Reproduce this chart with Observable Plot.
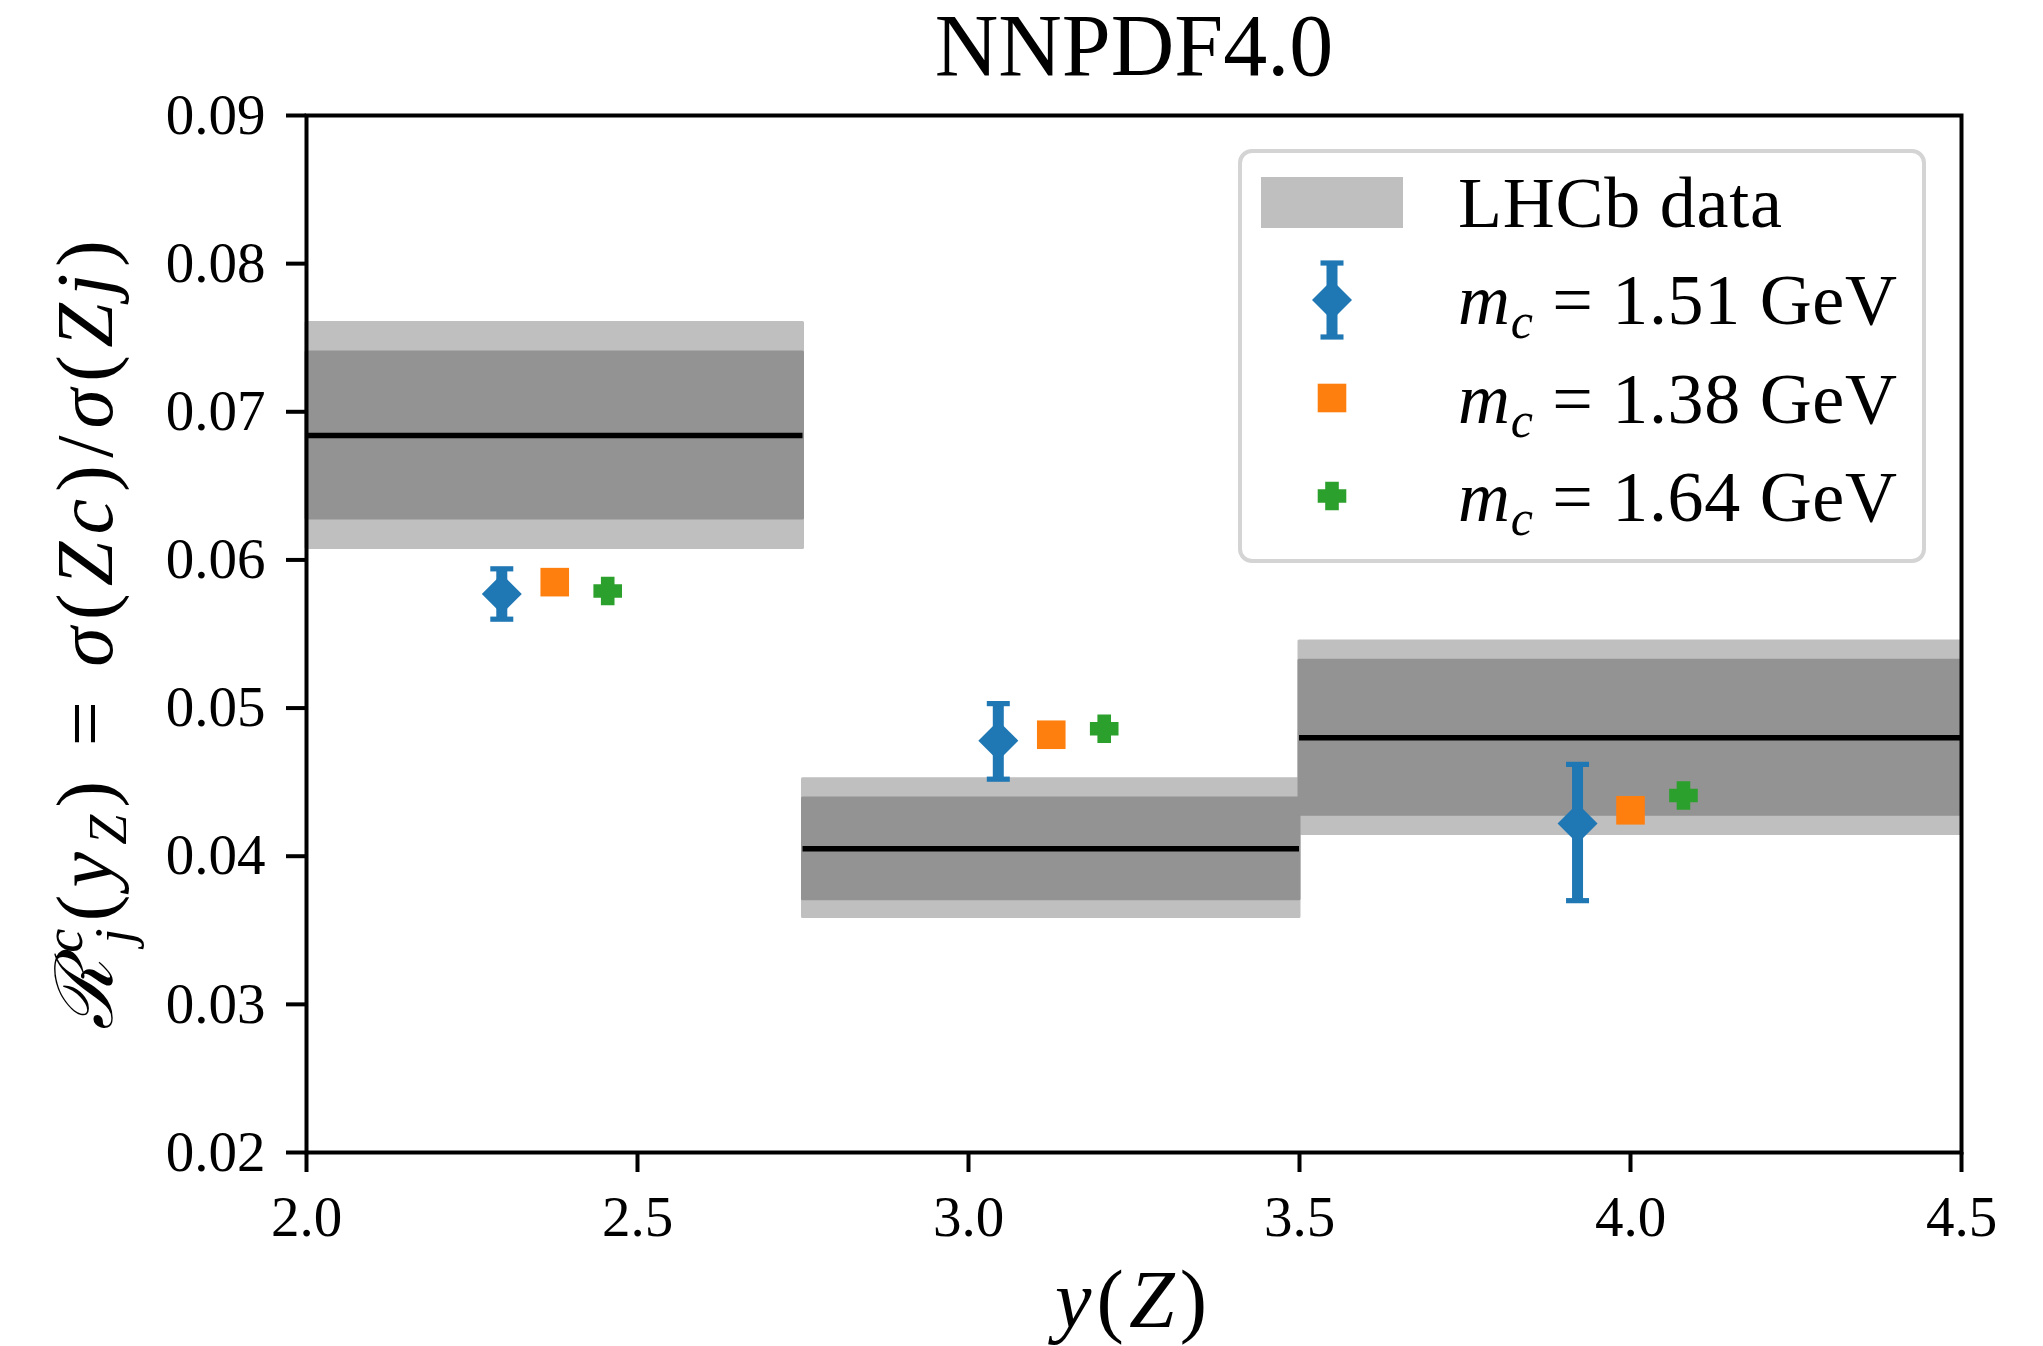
<!DOCTYPE html>
<html>
<head>
<meta charset="utf-8">
<script src="https://cdn.jsdelivr.net/npm/d3@7"></script>
<script src="https://cdn.jsdelivr.net/npm/@observablehq/plot@0.6"></script>
<style>
  body { margin: 0; background: #fff; width: 2043px; height: 1346px; overflow: hidden; font-family: "Liberation Serif", serif; }
  #title { position: relative; height: 90px; }
  #title span { position: absolute; left: 1134px; top: 2px; transform: translateX(-50%); font-size: 88px; line-height: 88px; white-space: nowrap; color: #000; }
  #chart svg { display: block; }
</style>
</head>
<body>
<div id="title"><span>NNPDF4.0</span></div>
<div id="chart"></div>
<script>
// ---- data ----
const binLow = [2.0, 2.75, 3.5];
const binHigh = [2.75, 3.5, 4.5];
const lhcbCentral = [0.0684, 0.0405, 0.0480];
const lhcbStatLow = [0.0628, 0.0371, 0.0428];
const lhcbStatHigh = [0.0740, 0.0439, 0.0532];
const lhcbTotLow = [0.0608, 0.0359, 0.0415];
const lhcbTotHigh = [0.0760, 0.0452, 0.0545];

const mc151 = [0.0577, 0.0478, 0.0422];
const mc151Low = [0.0560, 0.0452, 0.0370];
const mc151High = [0.0594, 0.0503, 0.0462];
const mc138 = [0.0585, 0.0482, 0.0431];
const mc164 = [0.0579, 0.0486, 0.0441];
const seriesOffset = [-0.08, 0.0, 0.08]; // 1.51, 1.38, 1.64 GeV
const seriesLabels = ["1.51", "1.38", "1.64"];
const seriesColors = ["#1f77b4", "#ff7f0e", "#2ca02c"];

const xTicks = [2.0, 2.5, 3.0, 3.5, 4.0, 4.5];
const yTicks = [0.02, 0.03, 0.04, 0.05, 0.06, 0.07, 0.08, 0.09];

// ---- tables ----
const bins = binLow.map((lo, i) => ({
  x1: lo, x2: binHigh[i], xc: (lo + binHigh[i]) / 2,
  c: lhcbCentral[i], sLo: lhcbStatLow[i], sHi: lhcbStatHigh[i],
  tLo: lhcbTotLow[i], tHi: lhcbTotHigh[i]
}));
const p151 = bins.map((b, i) => ({x: b.xc + seriesOffset[0], y: mc151[i], lo: mc151Low[i], hi: mc151High[i]}));
const p138 = bins.map((b, i) => ({x: b.xc + seriesOffset[1], y: mc138[i]}));
const p164 = bins.map((b, i) => ({x: b.xc + seriesOffset[2], y: mc164[i]}));

// ---- marker shapes (pixel sized) ----
const diamondSym = {draw(ctx) { const h = 20; ctx.moveTo(0, -h); ctx.lineTo(h, 0); ctx.lineTo(0, h); ctx.lineTo(-h, 0); ctx.closePath(); }};
const squareSym = {draw(ctx) { const h = 14.3; ctx.moveTo(-h, -h); ctx.lineTo(h, -h); ctx.lineTo(h, h); ctx.lineTo(-h, h); ctx.closePath(); }};
const plusSym = {draw(ctx) {
  const e = 14.3, a = 6.8;
  ctx.moveTo(-a, -e); ctx.lineTo(a, -e); ctx.lineTo(a, -a); ctx.lineTo(e, -a); ctx.lineTo(e, a); ctx.lineTo(a, a);
  ctx.lineTo(a, e); ctx.lineTo(-a, e); ctx.lineTo(-a, a); ctx.lineTo(-e, a); ctx.lineTo(-e, -a); ctx.lineTo(-a, -a); ctx.closePath();
}};
const capSym = {draw(ctx) { const w = 11.5, t = 2.6; ctx.moveTo(-w, -t); ctx.lineTo(w, -t); ctx.lineTo(w, t); ctx.lineTo(-w, t); ctx.closePath(); }};

const plot = Plot.plot({
  width: 2043, height: 1256,
  marginLeft: 306, marginRight: 82, marginTop: 25, marginBottom: 194,
  x: {domain: [2.0, 4.5]},
  y: {domain: [0.02, 0.09]},
  style: {fontFamily: "'Liberation Serif', serif", fontSize: "57px", color: "#000", background: "#fff", overflow: "visible"},
  marks: [
    Plot.rect(bins, {x1: "x1", x2: "x2", y1: "tLo", y2: "tHi", fill: "#bfbfbf", stroke: "#bfbfbf", strokeWidth: 3, strokeLinejoin: "round"}),
    Plot.rect(bins, {x1: "x1", x2: "x2", y1: "sLo", y2: "sHi", fill: "#939393", stroke: "#939393", strokeWidth: 3, strokeLinejoin: "round"}),
    Plot.ruleY(bins, {x1: "x1", x2: "x2", y: "c", stroke: "#000", strokeWidth: 5.5}),
    Plot.ruleX(p151, {x: "x", y1: "lo", y2: "hi", stroke: seriesColors[0], strokeWidth: 11}),
    Plot.dot(p151, {x: "x", y: "lo", symbol: capSym, fill: seriesColors[0], stroke: "none"}),
    Plot.dot(p151, {x: "x", y: "hi", symbol: capSym, fill: seriesColors[0], stroke: "none"}),
    Plot.dot(p151, {x: "x", y: "y", symbol: diamondSym, fill: seriesColors[0], stroke: "none"}),
    Plot.dot(p138, {x: "x", y: "y", symbol: squareSym, fill: seriesColors[1], stroke: "none"}),
    Plot.dot(p164, {x: "x", y: "y", symbol: plusSym, fill: seriesColors[2], stroke: "none"}),
    Plot.frame({stroke: "#000", strokeWidth: 4}),
    Plot.axisX({ticks: xTicks, tickFormat: d3.format(".1f"), tickSize: 20, tickPadding: 23, strokeWidth: 4, label: null}),
    Plot.axisY({ticks: yTicks, tickFormat: d3.format(".2f"), tickSize: 20, tickPadding: 21, strokeWidth: 4, label: null})
  ]
});
document.getElementById("chart").appendChild(plot);

const svg = d3.select(plot);
const FONT = "'Liberation Serif', serif";

// y label
const yl = svg.append("text")
  .attr("transform", "translate(112,545) rotate(-90)")
  .attr("text-anchor", "middle")
  .attr("font-family", FONT).attr("font-size", 80).attr("fill", "#000")
  .attr("textLength", 790).attr("lengthAdjust", "spacing");
yl.append("tspan").attr("font-style", "italic").text("ℛ");
yl.append("tspan").attr("font-style", "italic").attr("font-size", 54).attr("dy", -30).text("c");
yl.append("tspan").attr("font-style", "italic").attr("font-size", 54).attr("dx", -22).attr("dy", 50).text("j");
yl.append("tspan").attr("dy", -20).text("(");
yl.append("tspan").attr("font-style", "italic").text("y");
yl.append("tspan").attr("font-style", "italic").attr("font-size", 54).attr("dy", 14).text("Z");
yl.append("tspan").attr("dy", -14).text(") = ");
yl.append("tspan").attr("font-style", "italic").text("σ");
yl.append("tspan").text("(");
yl.append("tspan").attr("font-style", "italic").text("Zc");
yl.append("tspan").text(")/");
yl.append("tspan").attr("font-style", "italic").text("σ");
yl.append("tspan").text("(");
yl.append("tspan").attr("font-style", "italic").text("Zj");
yl.append("tspan").text(")");

// x label
const xl = svg.append("text")
  .attr("x", 1131).attr("y", 1237)
  .attr("text-anchor", "middle")
  .attr("font-family", FONT).attr("font-size", 82).attr("fill", "#000")
  .attr("textLength", 152).attr("lengthAdjust", "spacing");
xl.append("tspan").attr("font-style", "italic").text("y");
xl.append("tspan").text("(");
xl.append("tspan").attr("font-style", "italic").text("Z");
xl.append("tspan").text(")");

// legend
const lg = svg.append("g").attr("transform", "translate(1238,59)").attr("text-anchor", "start");
lg.append("rect").attr("x", 2).attr("y", 2).attr("width", 684).attr("height", 410)
  .attr("rx", 12).attr("fill", "#fff").attr("stroke", "#d4d4d4").attr("stroke-width", 4);
lg.append("rect").attr("x", 23).attr("y", 28).attr("width", 142).attr("height", 51).attr("fill", "#bfbfbf");
lg.append("text").attr("x", 220).attr("y", 78).attr("text-anchor", "start").attr("font-family", FONT).attr("font-size", 72)
  .attr("textLength", 324).attr("lengthAdjust", "spacing").text("LHCb data");
const mx = 94;
// blue entry
lg.append("line").attr("x1", mx).attr("x2", mx).attr("y1", 114).attr("y2", 188).attr("stroke", seriesColors[0]).attr("stroke-width", 11);
lg.append("path").attr("transform", `translate(${mx},114)`).attr("d", d3.symbol(capSym)()).attr("fill", seriesColors[0]);
lg.append("path").attr("transform", `translate(${mx},188)`).attr("d", d3.symbol(capSym)()).attr("fill", seriesColors[0]);
lg.append("path").attr("transform", `translate(${mx},151)`).attr("d", d3.symbol(diamondSym)()).attr("fill", seriesColors[0]);
lg.append("path").attr("transform", `translate(${mx},249)`).attr("d", d3.symbol(squareSym)()).attr("fill", seriesColors[1]);
lg.append("path").attr("transform", `translate(${mx},347)`).attr("d", d3.symbol(plusSym)()).attr("fill", seriesColors[2]);
const baselines = [175, 274, 372];
seriesLabels.forEach((lab, i) => {
  const t = lg.append("text").attr("x", 220).attr("y", baselines[i]).attr("text-anchor", "start").attr("font-family", FONT).attr("font-size", 72)
    .attr("textLength", 439).attr("lengthAdjust", "spacing");
  t.append("tspan").attr("font-style", "italic").text("m");
  t.append("tspan").attr("font-style", "italic").attr("font-size", 50).attr("dy", 14).text("c");
  t.append("tspan").attr("dy", -14).text(` = ${lab} GeV`);
});
</script>
</body>
</html>
